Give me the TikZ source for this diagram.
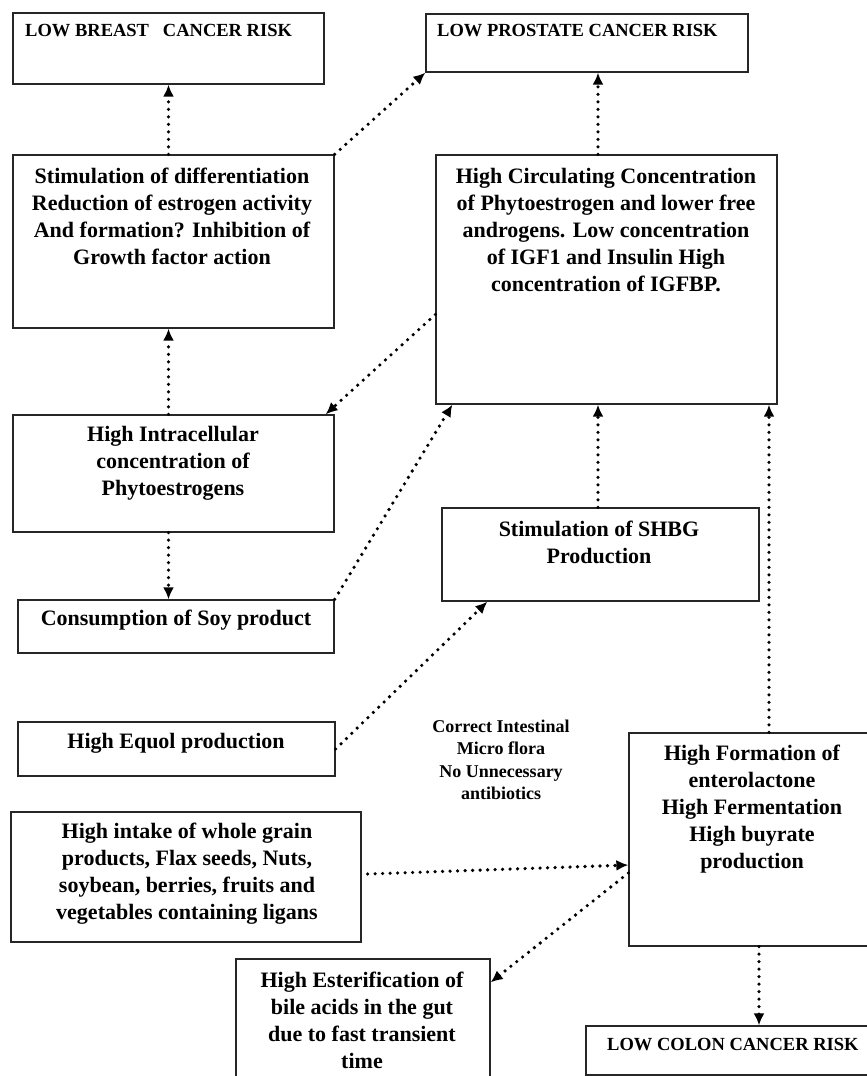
\documentclass[tikz,border=0pt]{standalone}
\usepackage{fontspec}
\setmainfont{Liberation Serif}
\usetikzlibrary{arrows.meta}
\begin{document}
\begin{tikzpicture}[x=1pt, y=-1pt,
		box/.style={draw=black!85, line width=1.3pt, inner sep=0pt},
		txt/.style={align=center, inner sep=0pt, font=\fontsize{22}{27}\selectfont\bfseries},
		lbl/.style={anchor=west, inner sep=0pt, font=\fontsize{18.5}{20}\selectfont\bfseries},
		arr/.style={line width=3.6pt, line cap=round, dash pattern=on 0pt off 7.5pt, -{Latex[length=12pt,width=11pt]}}]
		\useasboundingbox (0,0) rectangle (867,1076);
		\node (breast) at (168.5,48.5) [box, minimum width=311pt, minimum height=71pt] {};
		\node (breastT) at (25,31) [lbl] {LOW BREAST~~~CANCER RISK};
		\node (prost) at (587,43) [box, minimum width=322pt, minimum height=58pt] {};
		\node (prostT) at (437,31) [lbl] {LOW PROSTATE~CANCER RISK};
		\node (diff) at (173.5,241.5) [box, minimum width=321pt, minimum height=173pt] {};
		\node (diffT) at (172,216) [txt] {Stimulation of differentiation\\Reduction of estrogen activity\\And formation? Inhibition of\\Growth factor action};
		\node (circ) at (606.5,279.5) [box, minimum width=341pt, minimum height=249pt] {};
		\node (circT) at (606,230) [txt] {High Circulating Concentration\\of Phytoestrogen and lower free\\androgens. Low concentration\\of IGF1 and Insulin High\\concentration of IGFBP.};
		\node (intra) at (173.5,473.5) [box, minimum width=321pt, minimum height=117pt] {};
		\node (intraT) at (173,463) [txt] {High Intracellular\\concentration of\\Phytoestrogens};
		\node (shbg) at (600.5,554.5) [box, minimum width=317pt, minimum height=93pt] {};
		\node (shbgT) at (599,542) [txt] {Stimulation of SHBG\\Production};
		\node (soy) at (176,626.5) [box, minimum width=316pt, minimum height=53pt] {};
		\node (soyT) at (176,620) [txt] {Consumption of Soy product};
		\node (equol) at (176.5,749) [box, minimum width=317pt, minimum height=54pt] {};
		\node (equolT) at (176,743) [txt] {High Equol production};
		\node (flora) at (501,760) [txt, font=\fontsize{18}{22.5}\selectfont\bfseries] {Correct Intestinal\\Micro flora\\No Unnecessary\\antibiotics};
		\node (entero) at (754.5,839.5) [box, minimum width=251pt, minimum height=213pt] {};
		\node (enteroT) at (752,809) [txt] {High Formation of\\enterolactone\\High Fermentation\\High buyrate\\production};
		\node (intake) at (186,877) [box, minimum width=350pt, minimum height=130pt] {};
		\node (intakeT) at (187,874) [txt] {High intake of whole grain\\products, Flax seeds, Nuts,\\soybean, berries, fruits and\\vegetables containing ligans};
		\node (ester) at (363,1024.5) [box, minimum width=254pt, minimum height=131pt] {};
		\node (esterT) at (362,1020) [txt] {High Esterification of\\bile acids in the gut\\due to fast transient\\time};
		\node (colon) at (733,1050.5) [box, minimum width=294pt, minimum height=49pt] {};
		\node (colonT) at (607,1045) [lbl] {LOW COLON CANCER RISK};
		\draw[arr] (diff.north -| breast) -- (breast.south);
		\draw[arr] (diff.north east) -- (prost.south west);
		\draw[arr] ([xshift=-8.5pt]circ.north) -- ([xshift=-8.5pt]circ.north |- prost.south);
		\draw[arr] ([yshift=-35pt]circ.west) -- ([xshift=-9pt]intra.north east);
		\draw[arr] (intra.north -| breast) -- (diff.south -| breast);
		\draw[arr] (intra.south -| breast) -- (soy.north -| breast);
		\draw[arr] (soy.north east) -- ([xshift=17pt]circ.south west);
		\draw[arr] ([xshift=-2.5pt]shbg.north) -- ([xshift=-2.5pt]shbg.north |- circ.south);
		\draw[arr] ([xshift=14.5pt]entero.north) -- ([xshift=14.5pt]entero.north |- circ.south);
		\draw[arr] (equol.east) -- ([xshift=46pt]shbg.south west);
		\draw[arr] ([xshift=6pt,yshift=3pt]intake.east) -- ([yshift=-25.5pt]entero.west);
		\draw[arr] ([yshift=-33.5pt]entero.west) -- ([yshift=-24pt]ester.north east);
		\draw[arr] ([xshift=4.5pt]entero.south) -- ([xshift=4.5pt]entero.south |- colon.north);
	\end{tikzpicture}
\end{document}
